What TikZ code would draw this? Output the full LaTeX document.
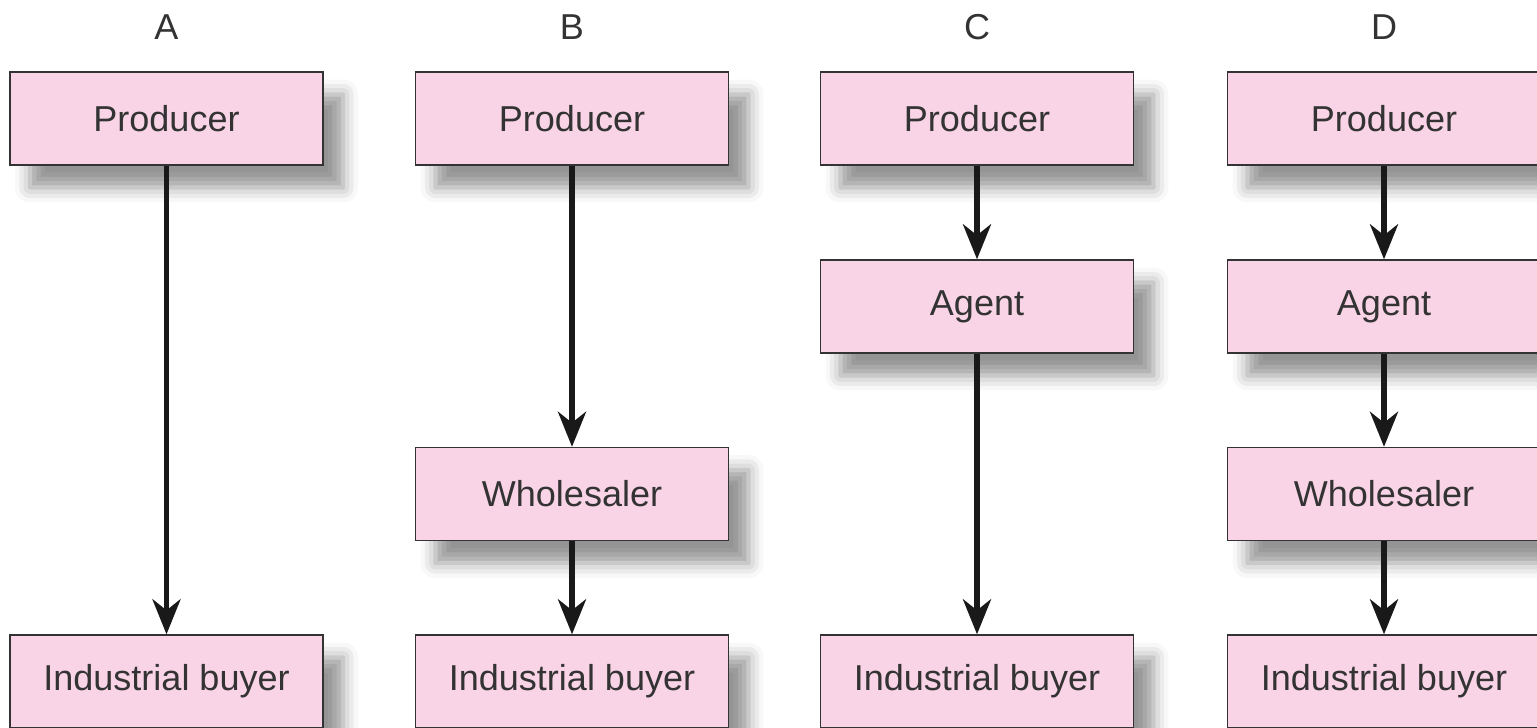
\documentclass[tikz,border=0pt]{standalone}
\usepackage{fontspec}
\setmainfont{Liberation Sans}
\usetikzlibrary{arrows.meta,shadows.blur}
\definecolor{boxpink}{RGB}{249,212,230}

\begin{document}
\begin{tikzpicture}[x=0.02cm,y=-0.02cm,
  stage/.style={draw=black!80,line width=0.8pt,fill=boxpink,
    minimum width=6.26cm,minimum height=1.86cm,inner sep=0pt,
    font=\fontsize{20.5}{24}\selectfont,text=black!80,
    blur shadow={shadow xshift=0.4cm,shadow yshift=-0.45cm,
      shadow blur radius=0.3cm,shadow opacity=42}},
  flow/.style={-{Stealth[length=0.7cm,width=0.56cm,inset=0.22cm]},
    line width=3.2pt,black!90},
  channel/.style={font=\fontsize{20.5}{24}\selectfont,text=black!80}]
\useasboundingbox (0,0) rectangle (1537,727);
\clip (0,0) rectangle (1537,727);
% column headings
\node [channel] (headA) at (166.5,27) {A};
\node [channel] (headB) at (572,27) {B};
\node [channel] (headC) at (977,27) {C};
\node [channel] (headD) at (1384,27) {D};
% A: producer -> industrial buyer
\node [stage] (prodA) at (166.5,118.5) {Producer};
\node [stage] (buyA) at (166.5,681.5) {Industrial buyer};
\draw [flow] (prodA) -- (buyA);
% B: producer -> wholesaler -> industrial buyer
\node [stage] (prodB) at (572,118.5) {Producer};
\node [stage] (wholB) at (572,494) {Wholesaler};
\node [stage] (buyB) at (572,681.5) {Industrial buyer};
\draw [flow] (prodB) -- (wholB);
\draw [flow] (wholB) -- (buyB);
% C: producer -> agent -> industrial buyer
\node [stage] (prodC) at (977,118.5) {Producer};
\node [stage] (agC) at (977,306.5) {Agent};
\node [stage] (buyC) at (977,681.5) {Industrial buyer};
\draw [flow] (prodC) -- (agC);
\draw [flow] (agC) -- (buyC);
% D: producer -> agent -> wholesaler -> industrial buyer
\node [stage] (prodD) at (1384,118.5) {Producer};
\node [stage] (agD) at (1384,306.5) {Agent};
\node [stage] (wholD) at (1384,494) {Wholesaler};
\node [stage] (buyD) at (1384,681.5) {Industrial buyer};
\draw [flow] (prodD) -- (agD);
\draw [flow] (agD) -- (wholD);
\draw [flow] (wholD) -- (buyD);
\end{tikzpicture}
\end{document}
